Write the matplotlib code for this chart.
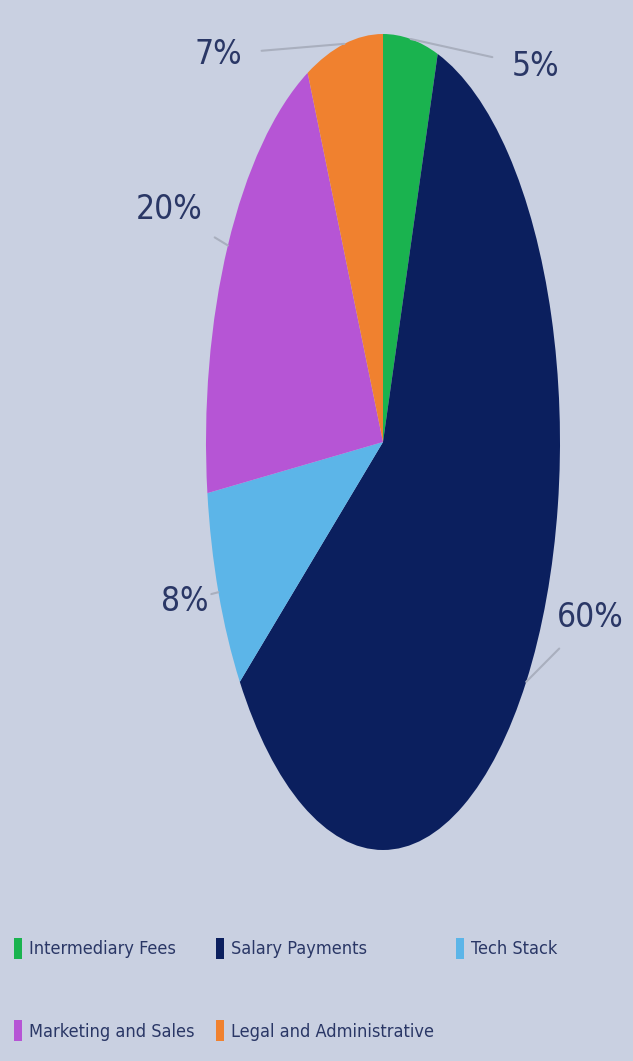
import numpy as np
import matplotlib
matplotlib.use('Agg')
import matplotlib.pyplot as plt
from matplotlib.patches import Patch

categories = ['Intermediary Fees', 'Salary Payments', 'Tech Stack',
              'Marketing and Sales', 'Legal and Administrative']
shares = [5, 60, 8, 20, 7]
colors = ['#1ab34f', '#0b1f5e', '#5cb5e8', '#b655d5', '#f0812f']
# label text positions, in pie radius units (x, y)
label_pos = [(0.86, 0.92), (1.17, -0.43), (-1.12, -0.39), (-1.21, 0.57), (-0.93, 0.95)]

bg = '#c9d0e1'
txt_col = '#2a3766'

W, H = 633, 1061
cx, cy, rx, ry = 383, 442, 177, 408

fig = plt.figure(figsize=(W / 100, H / 100), dpi=100, facecolor=bg)
ax = fig.add_axes([0, 0, 1, 1])
ax.set_facecolor(bg)

wedges, _ = ax.pie(shares, colors=colors, startangle=90, counterclock=False,
                   wedgeprops=dict(linewidth=0))
ax.set_aspect('auto')
# stretch the pie into an ellipse: 1 unit = rx px across, ry px down
ax.set_xlim(-cx / rx, (W - cx) / rx)
ax.set_ylim((cy - H) / ry, cy / ry)
ax.set_axis_off()

for w, val, (lx, ly) in zip(wedges, shares, label_pos):
    ang = np.deg2rad((w.theta1 + w.theta2) / 2)
    ax.annotate('{}%'.format(val), xy=(np.cos(ang), np.sin(ang)), xytext=(lx, ly),
                ha='center', va='center', fontsize=24, color=txt_col,
                family='DejaVu Sans', fontstretch='condensed',
                arrowprops=dict(arrowstyle='-', color='#a9afbe', lw=1.5,
                                shrinkA=12, shrinkB=0))

# legend drawn row by row: reorder for column-major fill
order = [0, 3, 1, 4, 2]
handles = [Patch(facecolor=colors[i], edgecolor='none') for i in order]
labels = [categories[i] for i in order]
leg = fig.legend(handles, labels, ncol=3, loc='lower left', bbox_to_anchor=(-0.01, 0.0),
                 frameon=False,
                 prop=dict(family='DejaVu Sans', stretch='condensed', size=13),
                 handlelength=0.45, handleheight=1.4, handletextpad=0.4,
                 columnspacing=1.2, labelspacing=3.4, borderaxespad=0.7)
for t in leg.get_texts():
    t.set_color(txt_col)

fig.savefig('out.png', dpi=100, facecolor=bg)
